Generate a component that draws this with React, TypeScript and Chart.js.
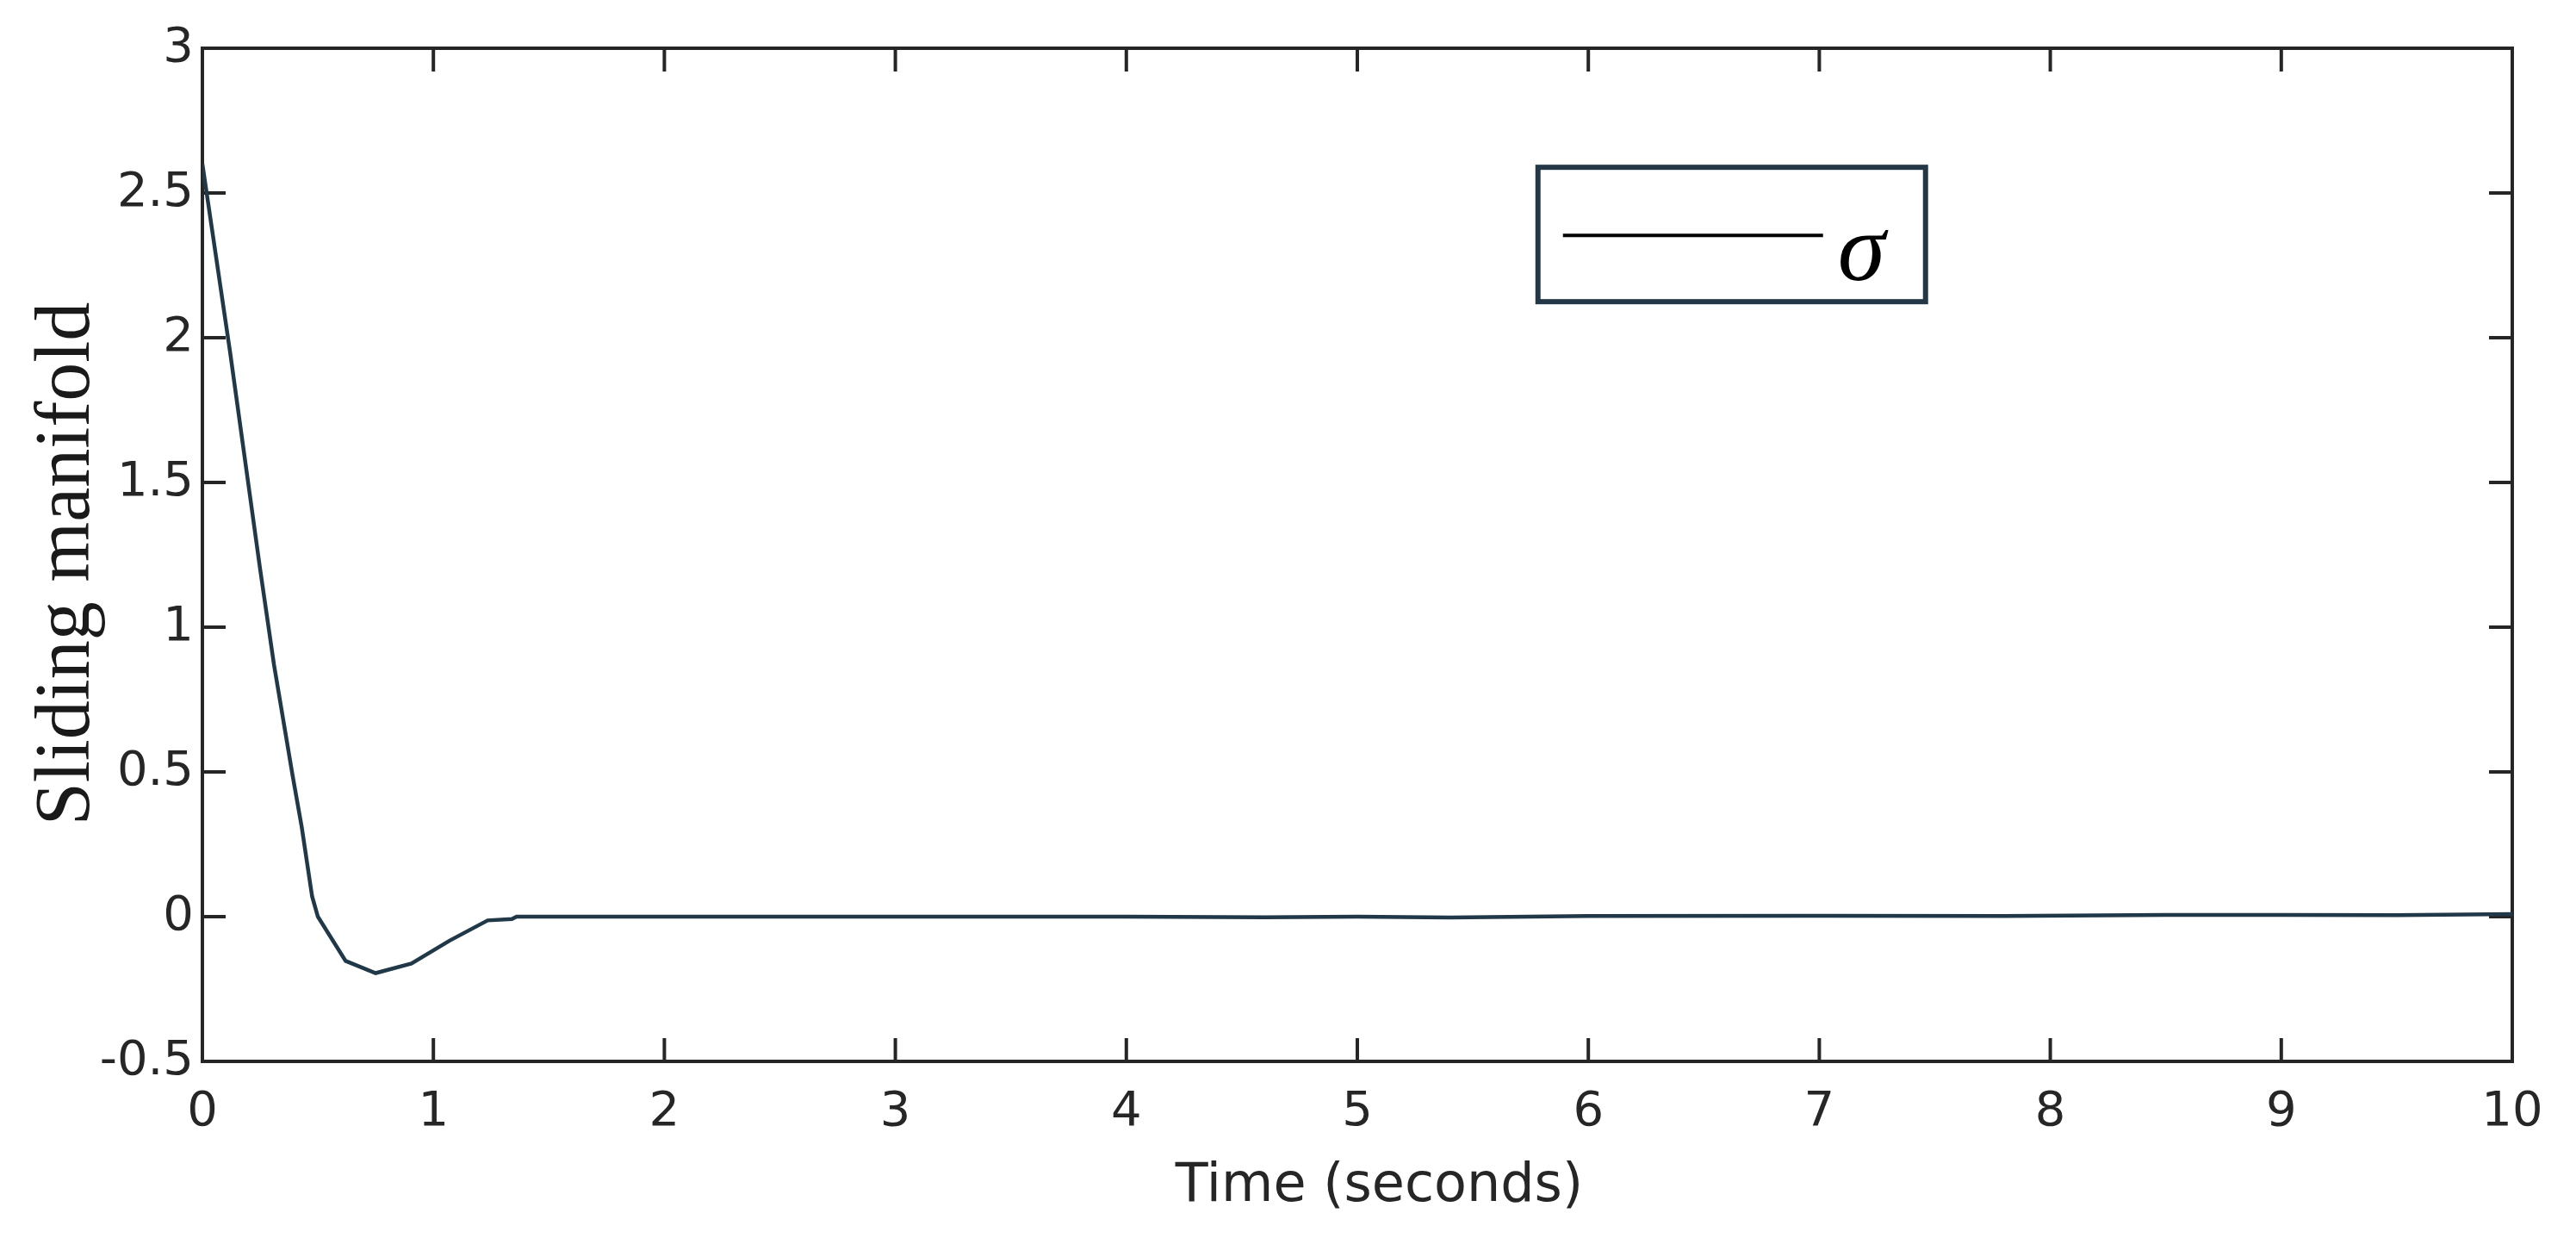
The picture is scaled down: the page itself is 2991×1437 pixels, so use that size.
import React, { useEffect, useRef } from "react";
import { Chart, registerables } from "chart.js";

Chart.register(...registerables);

// ---- data ----
const timeValues = [0, 0.12, 0.25, 0.31, 0.39, 0.43, 0.475, 0.5, 0.62, 0.75, 0.905, 1.07, 1.235, 1.34, 1.36, 2, 3, 4, 4.6, 5, 5.4, 6, 7, 7.8, 8.5, 9, 9.5, 10];
const sigmaValues = [2.6, 1.95, 1.2, 0.87, 0.49, 0.31, 0.07, 0.0, -0.153, -0.195, -0.162, -0.083, -0.013, -0.008, 0, 0, 0, 0, -0.002, 0, -0.003, 0.002, 0.003, 0.002, 0.006, 0.006, 0.005, 0.009];
const xTickValues = [0, 1, 2, 3, 4, 5, 6, 7, 8, 9, 10];
const yTickValues = [-0.5, 0, 0.5, 1, 1.5, 2, 2.5, 3];
const xAxisTitle = "Time (seconds)";
const yAxisTitle = "Sliding manifold";
const legendLabel = "\u03c3";

const AXIS_COLOR = "#262626";
const LINE_COLOR = "#213849";

const framePlugin = {
  id: "matlabFrame",
  beforeDatasetsDraw(chart: any) {
    const { ctx, chartArea } = chart;
    const xs = chart.scales.x;
    const ys = chart.scales.y;
    const { left, right, top, bottom } = chartArea;
    ctx.save();
    ctx.strokeStyle = AXIS_COLOR;
    ctx.lineWidth = 4;
    ctx.strokeRect(left, top, right - left, bottom - top);
    const tl = 27;
    ctx.beginPath();
    xTickValues.forEach((v) => {
      const px = xs.getPixelForValue(v);
      ctx.moveTo(px, bottom);
      ctx.lineTo(px, bottom - tl);
      ctx.moveTo(px, top);
      ctx.lineTo(px, top + tl);
    });
    yTickValues.forEach((v) => {
      const py = ys.getPixelForValue(v);
      ctx.moveTo(left, py);
      ctx.lineTo(left + tl, py);
      ctx.moveTo(right, py);
      ctx.lineTo(right - tl, py);
    });
    ctx.stroke();
    ctx.restore();
  },
  afterDraw(chart: any) {
    const { ctx, chartArea } = chart;
    const { left, right, top, bottom } = chartArea;
    const w = right - left;
    const h = bottom - top;
    ctx.save();
    // x title
    ctx.fillStyle = AXIS_COLOR;
    ctx.font = '62px "DejaVu Sans"';
    ctx.textAlign = "center";
    ctx.textBaseline = "alphabetic";
    ctx.fillText(xAxisTitle, left + w * 0.5095, 1394);
    // y title
    ctx.save();
    ctx.translate(103, top + h * 0.509);
    ctx.rotate(-Math.PI / 2);
    ctx.font = '90px "Liberation Serif"';
    ctx.fillStyle = "#1a1a1a";
    ctx.textAlign = "center";
    ctx.textBaseline = "alphabetic";
    ctx.fillText(yAxisTitle, 0, 0);
    ctx.restore();
    // legend box
    const bx = left + w * 0.5782;
    const by = top + h * 0.1175;
    const bw = 450;
    const bh = 156;
    ctx.fillStyle = "#ffffff";
    ctx.fillRect(bx, by, bw, bh);
    ctx.strokeStyle = "#233746";
    ctx.lineWidth = 6;
    ctx.strokeRect(bx, by, bw, bh);
    ctx.strokeStyle = "#000000";
    ctx.lineWidth = 4;
    ctx.beginPath();
    ctx.moveTo(bx + 29, by + 79);
    ctx.lineTo(bx + 331, by + 79);
    ctx.stroke();
    ctx.fillStyle = "#000000";
    ctx.font = 'italic 112px "Liberation Serif"';
    ctx.textAlign = "left";
    ctx.textBaseline = "alphabetic";
    ctx.fillText(legendLabel, bx + 348, by + 131);
    ctx.restore();
  },
};

export default function App() {
  const canvasRef = useRef<HTMLCanvasElement | null>(null);

  useEffect(() => {
    const canvas = canvasRef.current;
    if (!canvas) return;
    const points = timeValues.map((t, i) => ({ x: t, y: sigmaValues[i] }));
    const chart = new Chart(canvas, {
      type: "line",
      data: {
        datasets: [
          {
            label: legendLabel,
            data: points,
            borderColor: LINE_COLOR,
            borderWidth: 4.5,
            pointRadius: 0,
            tension: 0,
            fill: false,
          },
        ],
      },
      options: {
        animation: false,
        responsive: true,
        maintainAspectRatio: false,
        layout: { padding: { top: 56, right: 74, left: 0, bottom: 0 } },
        plugins: {
          legend: { display: false },
          tooltip: { enabled: false },
        },
        scales: {
          x: {
            type: "linear",
            min: 0,
            max: 10,
            afterFit: (scale: any) => {
              scale.height = 205;
            },
            afterBuildTicks: (scale: any) => {
              scale.ticks = xTickValues.map((v) => ({ value: v }));
            },
            border: { display: false },
            grid: { display: false, drawTicks: false },
            ticks: {
              padding: 26,
              color: AXIS_COLOR,
              font: { family: "DejaVu Sans", size: 56 },
              callback: (v: any) => String(v),
              maxRotation: 0,
              autoSkip: false,
            },
          },
          y: {
            type: "linear",
            min: -0.5,
            max: 3,
            afterFit: (scale: any) => {
              scale.width = 235;
            },
            afterBuildTicks: (scale: any) => {
              scale.ticks = yTickValues.map((v) => ({ value: v }));
            },
            border: { display: false },
            grid: { display: false, drawTicks: false },
            ticks: {
              padding: 10,
              color: AXIS_COLOR,
              font: { family: "DejaVu Sans", size: 56 },
              callback: (v: any) => String(v),
              autoSkip: false,
            },
          },
        },
      },
      plugins: [framePlugin],
    });
    return () => chart.destroy();
  }, []);

  return (
    <div style={{ position: "fixed", left: 0, top: 0, width: "2991px", height: "1437px", background: "#ffffff" }}>
      <canvas ref={canvasRef} />
    </div>
  );
}
